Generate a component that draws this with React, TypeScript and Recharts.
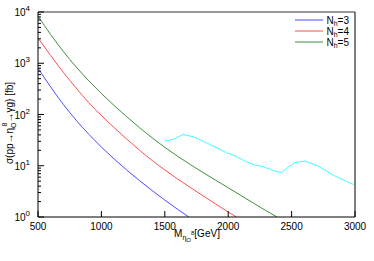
import { LineChart, Line, XAxis, YAxis } from "recharts";

// N_h = 3 / 4 / 5 cross sections (fb) vs mass (GeV)
const M3 = [500, 600, 700, 800, 900, 1000, 1100, 1200, 1300, 1400, 1500, 1600, 1690];
const S3 = [805, 344, 157, 77.8, 41.3, 23.2, 13.6, 8.24, 5.14, 3.28, 2.14, 1.42, 1.0];

const M4 = [500, 600, 700, 800, 900, 1000, 1100, 1200, 1300, 1400, 1500, 1600, 1700, 1800, 1900, 2000, 2065];
const S4 = [3090, 1413, 661, 331, 170, 95.5, 55.6, 33.1, 20.2, 12.7, 8.3, 5.56, 3.78, 2.61, 1.8, 1.25, 1.0];

const M5 = [500, 600, 700, 800, 900, 1000, 1100, 1200, 1300, 1400, 1500, 1600, 1700, 1800, 1900, 2000, 2100, 2200, 2300, 2385];
const S5 = [8318, 3631, 1698, 851, 457, 257, 150, 90.2, 55.6, 35.1, 22.9, 15.4, 10.6, 7.41, 5.25, 3.72, 2.63, 1.86, 1.32, 1.0];

// limit curve (cyan)
const MLIM = [1500, 1566, 1645, 1724, 1830, 1988, 2040, 2146, 2211, 2265, 2370, 2422, 2475, 2528, 2607, 2712, 2830, 2990];
const SLIM = [30.6, 32.6, 40.8, 36.7, 28, 17.9, 16.1, 11.9, 10.3, 9.8, 7.85, 7.4, 9.5, 11.6, 12.3, 9.8, 6.5, 4.3];

const X_TICKS = [500, 1000, 1500, 2000, 2500, 3000];
const DECADES = [1, 10, 100, 1000, 10000];
const Y_TICKS = DECADES.slice(0, 4)
  .flatMap((d) => [1, 2, 3, 4, 5, 6, 7, 8, 9].map((k) => k * d))
  .concat([10000]);

const SERIES = [
  { key: "n3", label: "3", color: "#4d4dff", m: M3, s: S3 },
  { key: "n4", label: "4", color: "#ff4d4d", m: M4, s: S4 },
  { key: "n5", label: "5", color: "#3f8f3f", m: M5, s: S5 },
];

const FONT = "Liberation Sans, Arial, sans-serif";
const toRows = (m: number[], s: number[]) => m.map((x, i) => ({ m: x, s: s[i] }));

function isDecade(v: number) {
  return DECADES.includes(v);
}

function BottomTick({ x, y, payload }: any) {
  return (
    <g>
      <line x1={x} x2={x} y1={y} y2={y - 6} stroke="#000" />
      <text x={x} y={y + 13} textAnchor="middle" fontSize={10} fontFamily={FONT} fill="#000">
        {payload.value}
      </text>
    </g>
  );
}

function TopTick({ x, y }: any) {
  return <line x1={x} x2={x} y1={y} y2={y + 6} stroke="#000" />;
}

function LeftTick({ x, y, payload }: any) {
  const v = payload.value;
  const major = isDecade(v);
  const exp = Math.round(Math.log10(v));
  return (
    <g>
      <line x1={x} x2={x + (major ? 6 : 3)} y1={y} y2={y} stroke="#000" />
      {major && (
        <text x={x - 8} y={y + 4} textAnchor="end" fontSize={10} fontFamily={FONT} fill="#000">
          10<tspan dy={-5} fontSize={8}>{exp}</tspan>
        </text>
      )}
    </g>
  );
}

function RightTick({ x, y, payload }: any) {
  const major = isDecade(payload.value);
  return <line x1={x} x2={x - (major ? 6 : 3)} y1={y} y2={y} stroke="#000" />;
}

function LegendBox() {
  return (
    <svg width={70} height={40} style={{ position: "absolute", left: 295, top: 14 }}>
      {SERIES.map((s, i) => (
        <g key={s.key}>
          <line x1={0} x2={28} y1={6 + i * 11} y2={6 + i * 11} stroke={s.color} />
          <text x={54} y={10 + i * 11} textAnchor="end" fontSize={10} fontFamily={FONT} fill="#000">
            N<tspan dy={2} fontSize={7}>h</tspan>
            <tspan dy={-2}>={s.label}</tspan>
          </text>
        </g>
      ))}
    </svg>
  );
}

export default function App() {
  return (
    <div style={{ position: "absolute", left: 0, top: 0, width: 374, height: 261, background: "#fff" }}>
      <LineChart width={374} height={261} margin={{ top: 11, right: 18, bottom: 0, left: 0 }}>
        <XAxis
          xAxisId="b"
          type="number"
          dataKey="m"
          domain={[500, 3000]}
          ticks={X_TICKS}
          height={44}
          tickSize={0}
          tickMargin={0}
          tick={<BottomTick />}
          axisLine={{ stroke: "#000" }}
          allowDataOverflow
        />
        <XAxis
          xAxisId="t"
          orientation="top"
          type="number"
          dataKey="m"
          domain={[500, 3000]}
          ticks={X_TICKS}
          height={1}
          tickSize={0}
          tickMargin={0}
          tick={<TopTick />}
          axisLine={{ stroke: "#777", strokeWidth: 1.5 }}
        />
        <YAxis
          yAxisId="l"
          scale="log"
          domain={[1, 10000]}
          ticks={Y_TICKS}
          interval={0}
          width={38}
          tickSize={0}
          tickMargin={0}
          tick={<LeftTick />}
          axisLine={{ stroke: "#000" }}
          allowDataOverflow
        />
        <YAxis
          yAxisId="r"
          orientation="right"
          scale="log"
          domain={[1, 10000]}
          ticks={Y_TICKS}
          interval={0}
          width={1}
          tickSize={0}
          tickMargin={0}
          tick={<RightTick />}
          axisLine={{ stroke: "#000" }}
        />
        {SERIES.map((s) => (
          <Line
            key={s.key}
            xAxisId="b"
            yAxisId="l"
            data={toRows(s.m, s.s)}
            dataKey="s"
            type="monotone"
            stroke={s.color}
            strokeWidth={1}
            dot={false}
            isAnimationActive={false}
          />
        ))}
        <Line
          xAxisId="b"
          yAxisId="l"
          data={toRows(MLIM, SLIM)}
          dataKey="s"
          type="linear"
          stroke="#40ffff"
          strokeWidth={1}
          dot={false}
          isAnimationActive={false}
        />
        <text x={13} y={123} transform="rotate(-90 13 123)" textAnchor="middle" fontSize={10} fontFamily={FONT} fill="#000">
          σ(pp→η<tspan dy={3} fontSize={7}>O</tspan>
          <tspan dx={-4} dy={-9} fontSize={7}>8</tspan>
          <tspan dy={6}>→γg) [fb]</tspan>
        </text>
        <text x={197} y={237} textAnchor="middle" fontSize={10} fontFamily={FONT} fill="#000">
          M<tspan dy={3} fontSize={7}>η</tspan>
          <tspan dy={2} fontSize={6}>O</tspan>
          <tspan dy={-7} fontSize={6}>8</tspan>
          <tspan dy={2}>[GeV]</tspan>
        </text>
      </LineChart>
      <LegendBox />
    </div>
  );
}
